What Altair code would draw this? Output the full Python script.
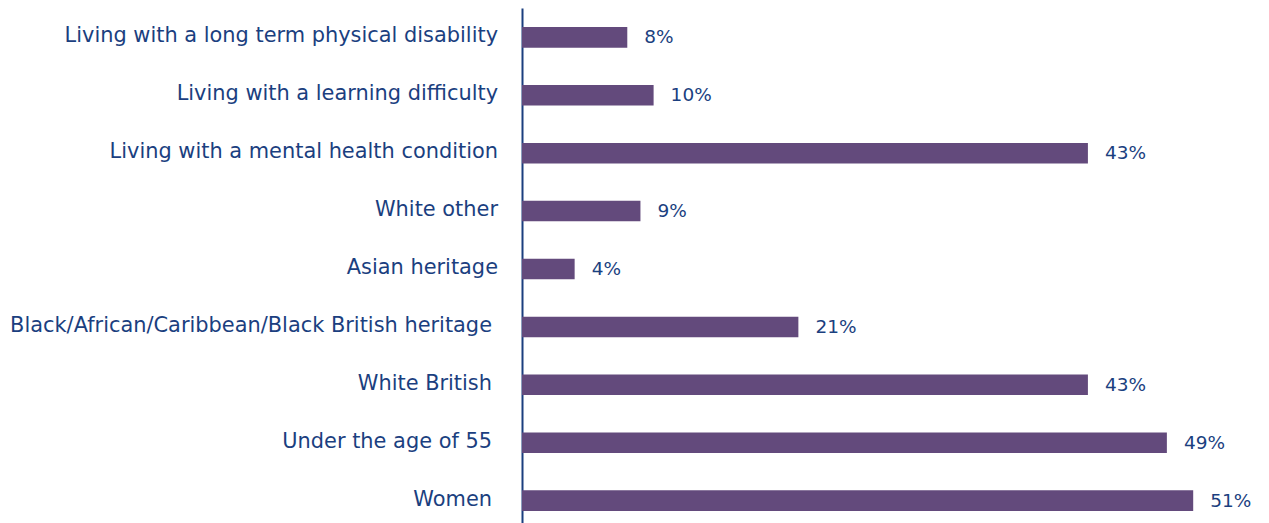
import altair as alt
import pandas as pd

categories = [
    "Living with a long term physical disability",
    "Living with a learning difficulty",
    "Living with a mental health condition",
    "White other",
    "Asian heritage",
    "Black/African/Caribbean/Black British heritage",
    "White British",
    "Under the age of 55",
    "Women",
]
# categories whose original label carries a trailing space
trailing_space = [
    "Black/African/Caribbean/Black British heritage",
    "White British",
    "Under the age of 55",
    "Women",
]
values = [8, 10, 43, 9, 4, 21, 43, 49, 51]
labels = [f"{v}%" for v in values]

df = pd.DataFrame({"category": categories, "value": values, "label": labels})

TEXT = "#1b3f7f"
BAR = "#634a7c"
FONT = "DejaVu Sans"

yscale = alt.Scale(paddingInner=0.645, paddingOuter=0.33)
y = alt.Y("category:N", sort=categories, title=None, scale=yscale,
          axis=alt.Axis(ticks=False, domain=True, domainColor=TEXT, domainWidth=2,
                        labels=False, grid=False))
yplain = alt.Y("category:N", sort=categories)
x = alt.X("value:Q", scale=alt.Scale(domain=[0, 56]), axis=None)

bars = alt.Chart(df).mark_bar(color=BAR).encode(x=x, y=y)
text = alt.Chart(df).mark_text(align="left", dx=17, color=TEXT, font=FONT, fontSize=18.5).encode(
    x=x, y=yplain, text="label:N")

cat_a = alt.Chart(df).transform_filter(
    alt.FieldOneOfPredicate(field="category", oneOf=[c for c in categories if c not in trailing_space])
).mark_text(align="right", dy=-1, color=TEXT, font=FONT, fontSize=20.9).encode(
    x=alt.value(-24), y=yplain, text="category:N")
cat_b = alt.Chart(df).transform_filter(
    alt.FieldOneOfPredicate(field="category", oneOf=trailing_space)
).mark_text(align="right", dy=-1, color=TEXT, font=FONT, fontSize=20.9).encode(
    x=alt.value(-30), y=yplain, text="category:N")

chart = (bars + text + cat_a + cat_b).properties(
    width=737, height=522,
    autosize=alt.AutoSizeParams(type="none"),
    padding={"left": 522, "top": 8, "right": 10, "bottom": 0},
).configure_view(stroke=None)

chart.save("out.html", embed_options={"renderer": "svg", "actions": False})
